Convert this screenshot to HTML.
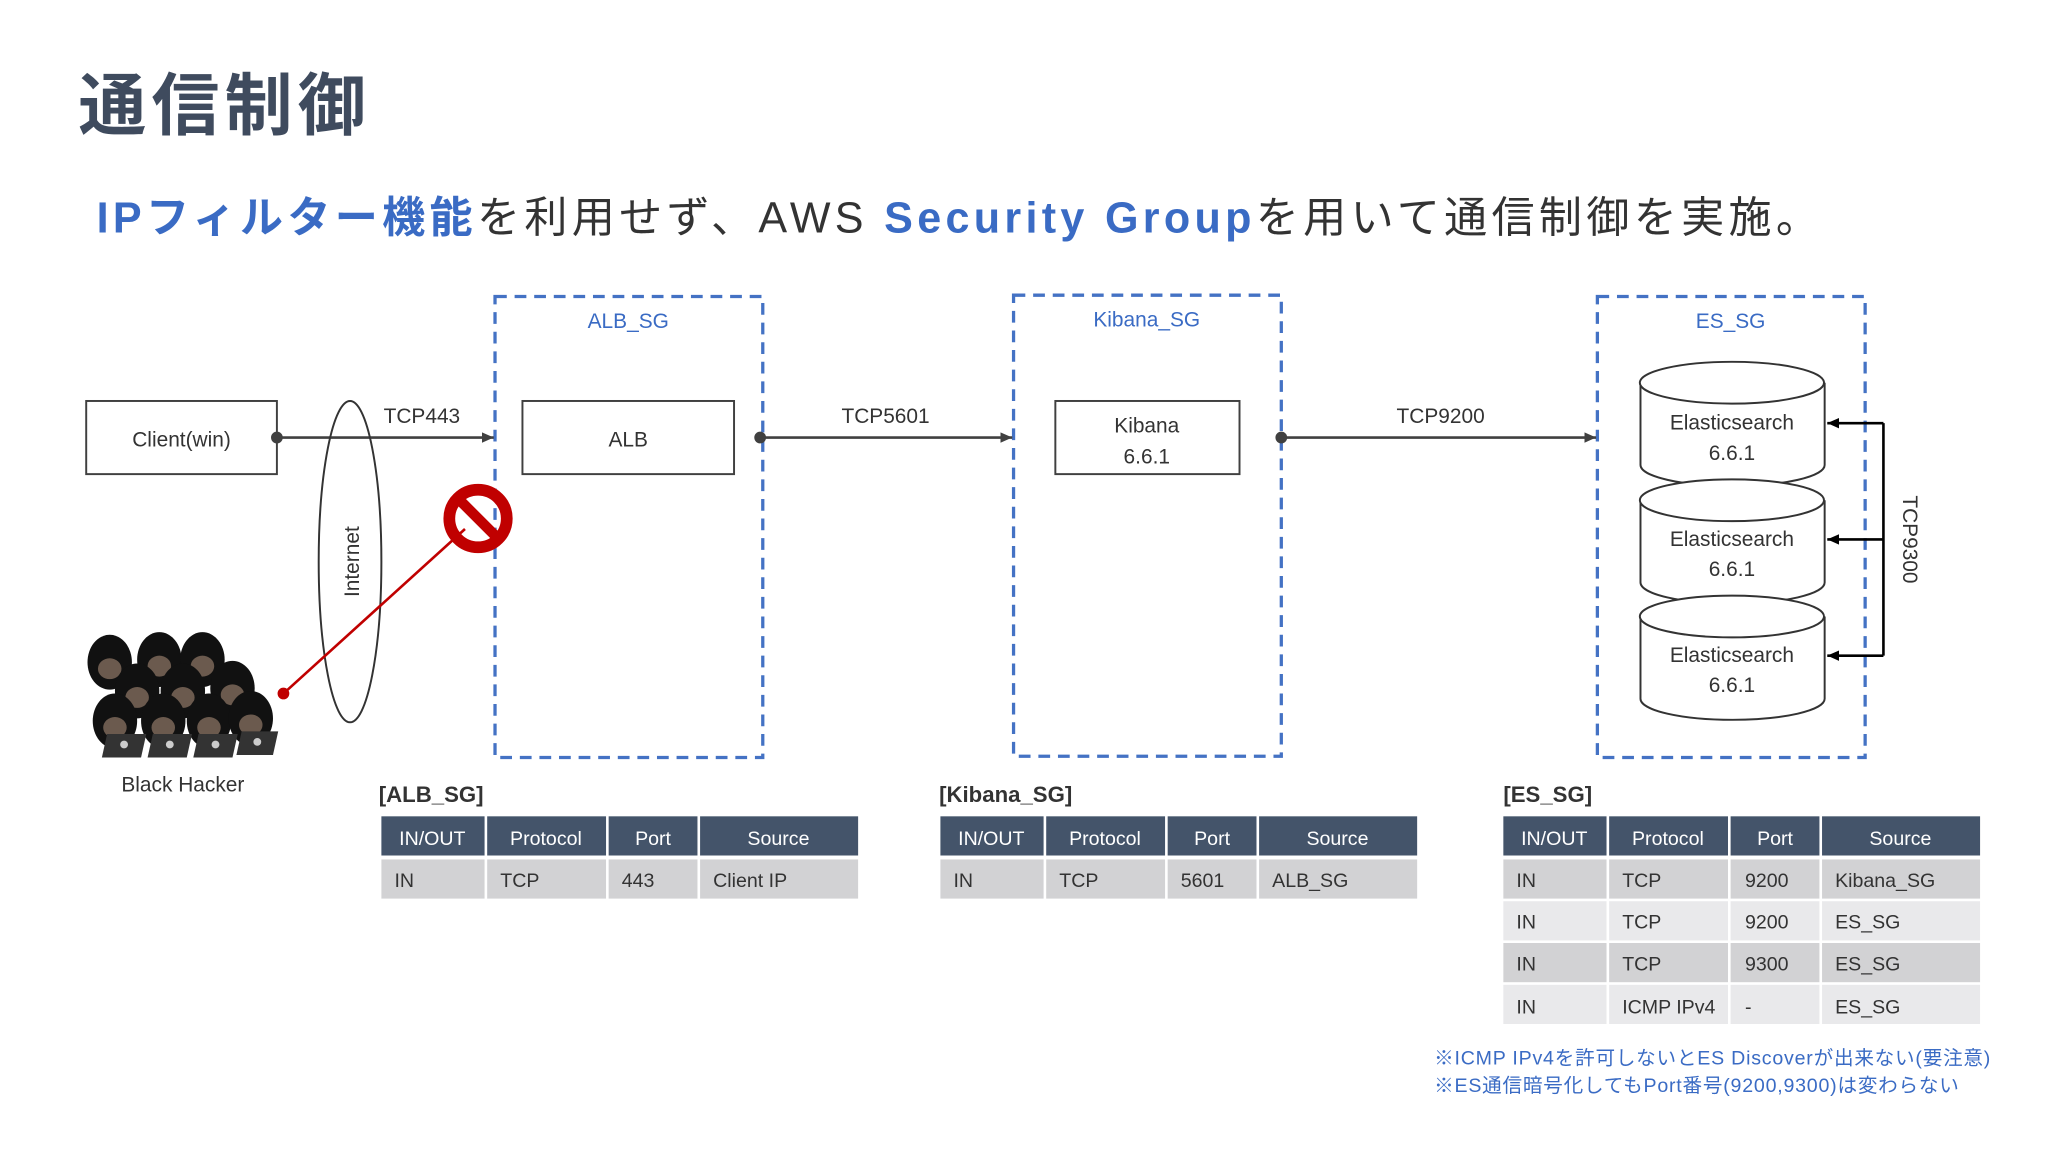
<!DOCTYPE html>
<html><head><meta charset="utf-8"><style>
html,body{margin:0;padding:0;background:#fff;}
svg{display:block;}
text{font-family:"Liberation Sans","Noto Sans CJK JP",sans-serif;}
</style></head><body>
<svg width="2048" height="1152" viewBox="0 0 1568 882" xmlns="http://www.w3.org/2000/svg">
<defs>
<marker id="ah" markerWidth="10" markerHeight="10" refX="9" refY="5" orient="auto" markerUnits="userSpaceOnUse"><path d="M0,1 L9,5 L0,9 Z" fill="#404040"/></marker>
<marker id="ah2" markerWidth="10" markerHeight="10" refX="9" refY="5" orient="auto" markerUnits="userSpaceOnUse"><path d="M0,1 L9,5 L0,9 Z" fill="#000"/></marker>
<g id="hk"><ellipse cx="0" cy="0" rx="17" ry="21" fill="#111"/><ellipse cx="0" cy="5" rx="9" ry="8" fill="#6b5a4e"/></g>
</defs>
<rect width="1568" height="882" fill="#fff"/>
<text x="60" y="99" font-size="52" font-weight="bold" fill="#3f4b5e" letter-spacing="4">通信制御</text>
<text x="74" y="178" font-size="33" fill="#333" letter-spacing="3.3"><tspan fill="#3a6bc4" font-weight="bold">IPフィルター機能</tspan>を利用せず、AWS <tspan fill="#3a6bc4" font-weight="bold">Security Group</tspan>を用いて通信制御を実施。</text>

<g fill="none" stroke="#4472c4" stroke-width="2.5" stroke-dasharray="9,6">
<rect x="379" y="227" width="205" height="353"/>
<rect x="776" y="226" width="205" height="353"/>
<rect x="1223" y="227" width="205" height="353"/>
</g>
<g font-size="16" fill="#3a6bc4" text-anchor="middle">
<text x="481" y="251">ALB_SG</text><text x="878" y="250">Kibana_SG</text><text x="1325" y="251">ES_SG</text>
</g>

<g fill="#fff" stroke="#404040" stroke-width="1.5">
<rect x="66" y="307" width="146" height="56"/>
<rect x="400" y="307" width="162" height="56"/>
<rect x="808" y="307" width="141" height="56"/>
</g>
<g font-size="16" fill="#333" text-anchor="middle">
<text x="139" y="342">Client(win)</text>
<text x="481" y="342">ALB</text>
<text x="878" y="331">Kibana</text><text x="878" y="355">6.6.1</text>
</g>

<g stroke="#404040" stroke-width="2" fill="none">
<line x1="212" y1="335" x2="378" y2="335" marker-end="url(#ah)"/>
<line x1="582" y1="335" x2="775" y2="335" marker-end="url(#ah)"/>
<line x1="981" y1="335" x2="1222" y2="335" marker-end="url(#ah)"/>
</g>
<g fill="#404040"><circle cx="212" cy="335" r="4.5"/><circle cx="582" cy="335" r="4.5"/><circle cx="981" cy="335" r="4.5"/></g>
<g font-size="16" fill="#333" text-anchor="middle">
<text x="323" y="324">TCP443</text><text x="678" y="324">TCP5601</text><text x="1103" y="324">TCP9200</text>
</g>

<ellipse cx="268" cy="430" rx="24" ry="123" fill="none" stroke="#333" stroke-width="1.5"/>
<text x="0" y="0" font-size="16" fill="#333" text-anchor="middle" transform="translate(275,430) rotate(-90)">Internet</text>

<line x1="217" y1="531" x2="356" y2="405" stroke="#c00000" stroke-width="2"/>
<circle cx="217" cy="531" r="4.5" fill="#c00000"/>
<circle cx="366" cy="397" r="22" fill="none" stroke="#c00000" stroke-width="9"/>
<line x1="352" y1="383" x2="380" y2="411" stroke="#c00000" stroke-width="8"/>

<g>
<use href="#hk" x="84" y="507"/><use href="#hk" x="122" y="505"/><use href="#hk" x="155" y="505"/>
<use href="#hk" x="105" y="529"/><use href="#hk" x="140" y="529"/><use href="#hk" x="178" y="527"/>
<use href="#hk" x="88" y="552"/><use href="#hk" x="125" y="552"/><use href="#hk" x="160" y="552"/><use href="#hk" x="192" y="550"/>
<g fill="#333"><polygon points="82,562 112,562 108,580 78,580"/><polygon points="117,562 147,562 143,580 113,580"/><polygon points="152,562 182,562 178,580 148,580"/><polygon points="185,560 213,560 209,578 181,578"/></g>
<g fill="#ccc"><circle cx="95" cy="570" r="3"/><circle cx="130" cy="570" r="3"/><circle cx="165" cy="570" r="3"/><circle cx="197" cy="568" r="3"/></g>
</g>
<text x="140" y="606" font-size="16" fill="#333" text-anchor="middle">Black Hacker</text>

<g fill="#fff" stroke="#333" stroke-width="1.5">
<path d="M1256,293 V356 A70,16 0 0 0 1397,356 V293"/>
<ellipse cx="1326" cy="293" rx="70.5" ry="16"/>
<path d="M1256,383 V446 A70,16 0 0 0 1397,446 V383"/>
<ellipse cx="1326" cy="383" rx="70.5" ry="16"/>
<path d="M1256,472 V535 A70,16 0 0 0 1397,535 V472"/>
<ellipse cx="1326" cy="472" rx="70.5" ry="16"/>
</g>
<g font-size="16" fill="#333" text-anchor="middle">
<text x="1326" y="329">Elasticsearch</text><text x="1326" y="352">6.6.1</text>
<text x="1326" y="418">Elasticsearch</text><text x="1326" y="441">6.6.1</text>
<text x="1326" y="507">Elasticsearch</text><text x="1326" y="530">6.6.1</text>
</g>
<g stroke="#000" stroke-width="2" fill="none">
<polyline points="1442,324 1442,502"/>
<line x1="1442" y1="324" x2="1399" y2="324" marker-end="url(#ah2)"/>
<line x1="1442" y1="413" x2="1399" y2="413" marker-end="url(#ah2)"/>
<line x1="1442" y1="502" x2="1399" y2="502" marker-end="url(#ah2)"/>
</g>
<text font-size="16" fill="#333" text-anchor="middle" transform="translate(1457,413) rotate(90)">TCP9300</text>

<g font-size="17" fill="#333" font-weight="bold">
<text x="290" y="614">[ALB_SG]</text><text x="719" y="614">[Kibana_SG]</text><text x="1151" y="614">[ES_SG]</text>
</g>

<g font-size="15">
<g fill="#44546a">
<rect x="292" y="625" width="79" height="30"/><rect x="373" y="625" width="91" height="30"/><rect x="466" y="625" width="68" height="30"/><rect x="536" y="625" width="121" height="30"/>
<rect x="720" y="625" width="79" height="30"/><rect x="801" y="625" width="91" height="30"/><rect x="894" y="625" width="68" height="30"/><rect x="964" y="625" width="121" height="30"/>
<rect x="1151" y="625" width="79" height="30"/><rect x="1232" y="625" width="91" height="30"/><rect x="1325" y="625" width="68" height="30"/><rect x="1395" y="625" width="121" height="30"/>
</g>
<g fill="#fff" text-anchor="middle">
<text x="331" y="647">IN/OUT</text><text x="418" y="647">Protocol</text><text x="500" y="647">Port</text><text x="596" y="647">Source</text>
<text x="759" y="647">IN/OUT</text><text x="846" y="647">Protocol</text><text x="928" y="647">Port</text><text x="1024" y="647">Source</text>
<text x="1190" y="647">IN/OUT</text><text x="1277" y="647">Protocol</text><text x="1359" y="647">Port</text><text x="1455" y="647">Source</text>
</g>
<g fill="#d2d2d4">
<rect x="292" y="658" width="79" height="30"/><rect x="373" y="658" width="91" height="30"/><rect x="466" y="658" width="68" height="30"/><rect x="536" y="658" width="121" height="30"/>
<rect x="720" y="658" width="79" height="30"/><rect x="801" y="658" width="91" height="30"/><rect x="894" y="658" width="68" height="30"/><rect x="964" y="658" width="121" height="30"/>
<rect x="1151" y="658" width="79" height="30"/><rect x="1232" y="658" width="91" height="30"/><rect x="1325" y="658" width="68" height="30"/><rect x="1395" y="658" width="121" height="30"/>
<rect x="1151" y="722" width="79" height="30"/><rect x="1232" y="722" width="91" height="30"/><rect x="1325" y="722" width="68" height="30"/><rect x="1395" y="722" width="121" height="30"/>
</g>
<g fill="#e9e9eb">
<rect x="1151" y="690" width="79" height="30"/><rect x="1232" y="690" width="91" height="30"/><rect x="1325" y="690" width="68" height="30"/><rect x="1395" y="690" width="121" height="30"/>
<rect x="1151" y="754" width="79" height="30"/><rect x="1232" y="754" width="91" height="30"/><rect x="1325" y="754" width="68" height="30"/><rect x="1395" y="754" width="121" height="30"/>
</g>
<g fill="#333">
<text x="302" y="679">IN</text><text x="383" y="679">TCP</text><text x="476" y="679">443</text><text x="546" y="679">Client IP</text>
<text x="730" y="679">IN</text><text x="811" y="679">TCP</text><text x="904" y="679">5601</text><text x="974" y="679">ALB_SG</text>
<text x="1161" y="679">IN</text><text x="1242" y="679">TCP</text><text x="1336" y="679">9200</text><text x="1405" y="679">Kibana_SG</text>
<text x="1161" y="711">IN</text><text x="1242" y="711">TCP</text><text x="1336" y="711">9200</text><text x="1405" y="711">ES_SG</text>
<text x="1161" y="743">IN</text><text x="1242" y="743">TCP</text><text x="1336" y="743">9300</text><text x="1405" y="743">ES_SG</text>
<text x="1161" y="776">IN</text><text x="1242" y="776">ICMP IPv4</text><text x="1336" y="776">-</text><text x="1405" y="776">ES_SG</text>
</g>
</g>
<g font-size="15" fill="#3a6bc4" letter-spacing="0.6">
<text x="1098" y="815">※ICMP IPv4を許可しないとES Discoverが出来ない(要注意)</text>
<text x="1098" y="836">※ES通信暗号化してもPort番号(9200,9300)は変わらない</text>
</g>
</svg>
</body></html>
